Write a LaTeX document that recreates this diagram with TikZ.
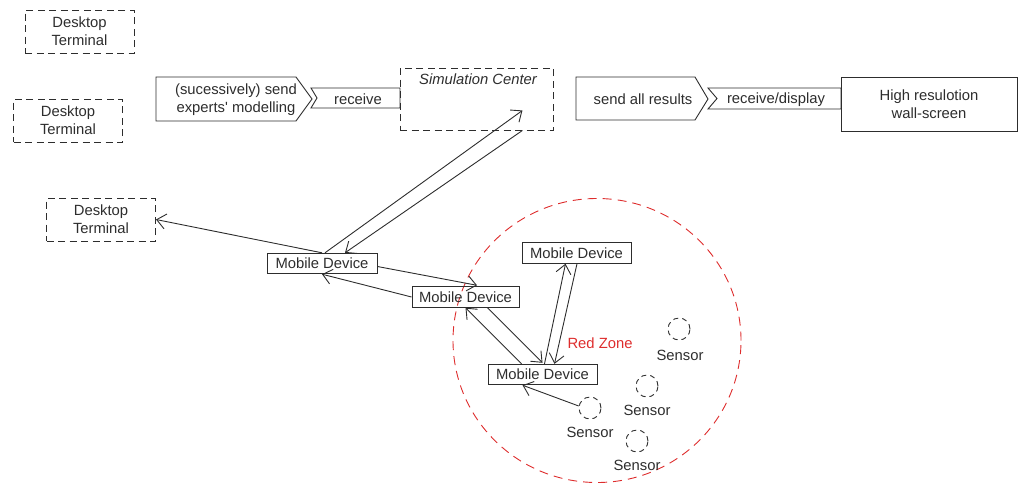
\documentclass[tikz,border=0pt]{standalone}
\usepackage{fontspec}
\setmainfont{Liberation Sans}
\usetikzlibrary{arrows.meta,calc,shapes.geometric}
\definecolor{ink}{RGB}{45,45,45}
\definecolor{zonered}{RGB}{222,45,45}

\begin{document}
\begin{tikzpicture}[x=1pt,y=-1pt,
  every node/.style={font=\fontsize{14.8}{18}\selectfont, text=ink},
  box/.style={draw=ink, line width=0.9pt, inner sep=0pt},
  dbox/.style={box, dash pattern=on 7pt off 4.5pt},
  device/.style={box, minimum width=109pt, minimum height=20.5pt},
  terminal/.style={dbox, minimum width=109pt, minimum height=43pt, align=center},
  outline/.style={draw=ink, line width=0.9pt, line join=miter},
  flow/.style={draw=ink, line width=0.9pt, -{Straight Barb[length=9pt,width=15pt]}},
  sensor/.style={circle, draw=ink, line width=0.9pt, dash pattern=on 5pt off 4pt,
    minimum size=22pt, inner sep=0pt},
]
\useasboundingbox (0,0) rectangle (1024,485);

% desktop terminals
\node[terminal] (dt1) at (79.5,31.5) {Desktop\\Terminal};
\node[terminal] (dt2) at (68,120.5) {Desktop\\Terminal};
\node[terminal] (dt3) at (101,219.5) {Desktop\\Terminal};

% send / receive pair towards the simulation center
\draw[outline] (156,77) -- (296,77) -- (312,99) -- (296,121) -- (156,121) -- cycle;
\node[align=center] (send1) at (236,100) {(sucessively) send\\experts\textquotesingle{} modelling};
\draw[outline] (311,88) -- (400,88) -- (400,108) -- (311,108) -- (317,98) -- cycle;
\node (recv1) at (358,99) {receive};

\node[dbox, minimum width=153pt, minimum height=62pt] (sim) at (476.5,99) {};
\node[font=\fontsize{14.8}{18}\selectfont\itshape] (simlabel) at (478,79.5) {Simulation Center};

% send / receive pair towards the wall screen
\draw[outline] (576,77) -- (695,77) -- (708,99) -- (695,120) -- (576,120) -- cycle;
\node (send2) at (643,99.5) {send all results};
\draw[outline] (708,88) -- (841,88) -- (841,109) -- (708,109) -- (717,98.5) -- cycle;
\node (recv2) at (776,99.5) {receive/display};
\node[box, minimum width=176pt, minimum height=54pt, align=center] (wall) at (929,104)
  {High resulotion\\wall-screen};

% red zone
\node[ellipse, draw=zonered, line width=0.9pt, dash pattern=on 9pt off 6pt,
  minimum width=288pt, minimum height=284pt, inner sep=0pt] (zone) at (597,340.5) {};
\node[text=zonered] (zonelabel) at (600,343) {Red Zone};

% mobile devices
\node[device, minimum width=110pt] (md1) at (322,263.5) {Mobile Device};
\node[device, minimum width=107pt] (md2) at (465.5,297) {Mobile Device};
\node[device] (md3) at (576.5,253) {Mobile Device};
\node[device] (md4) at (542.5,374.5) {Mobile Device};

% sensors
\node[sensor] (s1) at (590,408) {};
\node[sensor] (s2) at (647,386) {};
\node[sensor] (s3) at (679,329) {};
\node[sensor] (s4) at (637,441) {};
\node (s1label) at (590,432) {Sensor};
\node (s2label) at (647,410) {Sensor};
\node (s3label) at (680,355) {Sensor};
\node (s4label) at (637,465) {Sensor};

% connectors
\draw[flow] (md1.north) -- (dt3.east);
\draw[flow] ($(md1.north)+(3,0)$) -- ($(sim.south east)+(-31,-20)$);
\draw[flow] ($(sim.south east)+(-31,0)$) -- ($(md1.north)+(23,0)$);
\draw[flow] ($(md1.east)+(0,3)$) -- ($(md2.north)+(11.5,-1)$);
\draw[flow] (md2.west) -- (md1.south);
\draw[flow] ($(md2.south)+(22,0)$) -- ($(md4.north)+(0,-1)$);
\draw[flow] ($(md4.north)+(-21,0)$) -- (md2.south);
\draw[flow] ($(md4.north)+(2,0)$) -- ($(md3.south)+(-11,0)$);
\draw[flow] ($(md3.south)+(0.5,0)$) -- ($(md4.north)+(12,0)$);
\draw[flow] (s1.170) -- ($(md4.south)+(-20,0)$);
\end{tikzpicture}
\end{document}
